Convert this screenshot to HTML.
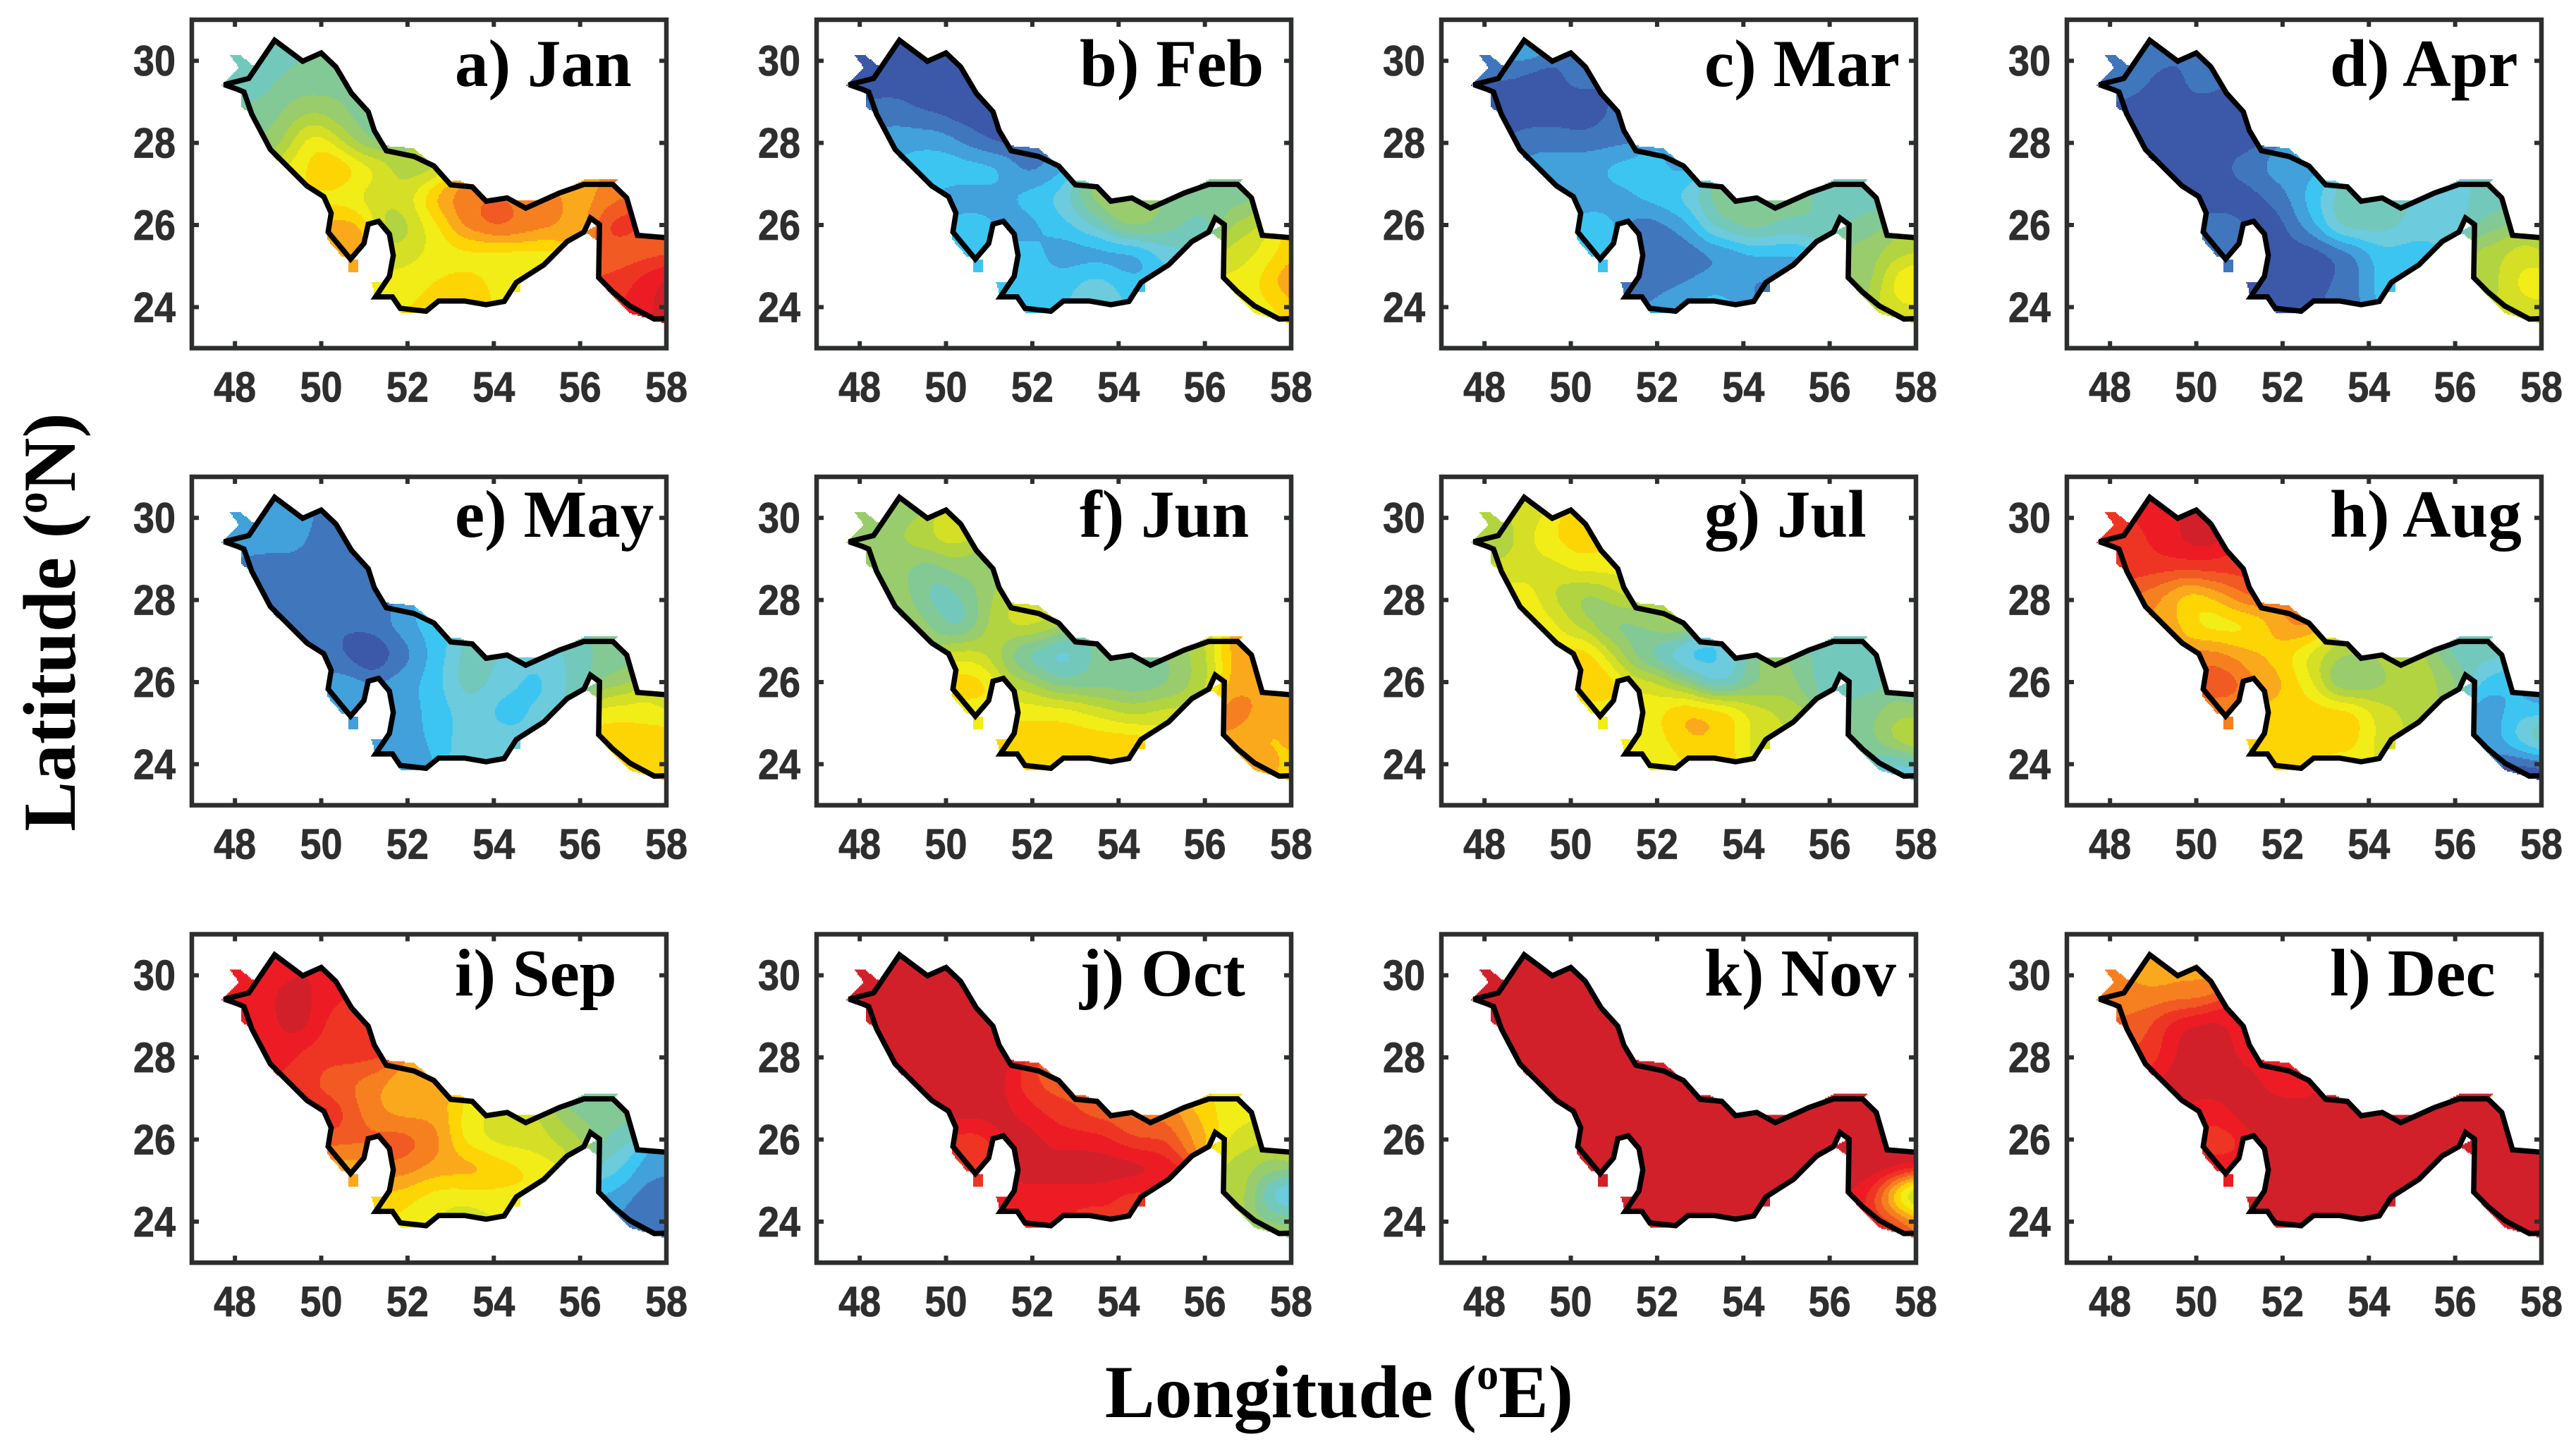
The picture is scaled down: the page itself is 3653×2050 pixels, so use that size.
<!DOCTYPE html>
<html lang="en">
<head>
<meta charset="utf-8">
<title>Monthly maps of the Persian Gulf</title>
<style>
html,body{margin:0;padding:0;background:#fff;}
svg{display:block;}
.panel-title{font-family:"Liberation Serif",serif;font-weight:bold;font-size:95px;fill:#000;}
.tick-label{font-family:"Liberation Sans",sans-serif;font-weight:bold;font-size:60px;fill:#2e2e2e;stroke:#2e2e2e;stroke-width:0.8;}
.axis-title{font-family:"Liberation Serif",serif;font-weight:bold;font-size:106px;fill:#000;}
</style>
</head>
<body>
<svg id="figure" xmlns="http://www.w3.org/2000/svg" width="3653" height="2050" viewBox="0 0 3653 2050">
  <rect width="3653" height="2050" fill="#fff"/>
  <g id="panel-0" transform="translate(272,28)"><text class="panel-title" x="373" y="94">a) Jan</text></g>
  <g id="panel-1" transform="translate(1158,28)"><text class="panel-title" x="373" y="94">b) Feb</text></g>
  <g id="panel-2" transform="translate(2044,28)"><text class="panel-title" x="373" y="94">c) Mar</text></g>
  <g id="panel-3" transform="translate(2931,28)"><text class="panel-title" x="373" y="94">d) Apr</text></g>
  <g id="panel-4" transform="translate(272,676)"><text class="panel-title" x="373" y="85">e) May</text></g>
  <g id="panel-5" transform="translate(1158,676)"><text class="panel-title" x="373" y="85">f) Jun</text></g>
  <g id="panel-6" transform="translate(2044,676)"><text class="panel-title" x="373" y="85">g) Jul</text></g>
  <g id="panel-7" transform="translate(2931,676)"><text class="panel-title" x="373" y="85">h) Aug</text></g>
  <g id="panel-8" transform="translate(272,1324.5)"><text class="panel-title" x="373" y="87">i) Sep</text></g>
  <g id="panel-9" transform="translate(1158,1324.5)"><text class="panel-title" x="373" y="87">j) Oct</text></g>
  <g id="panel-10" transform="translate(2044,1324.5)"><text class="panel-title" x="373" y="87">k) Nov</text></g>
  <g id="panel-11" transform="translate(2931,1324.5)"><text class="panel-title" x="373" y="87">l) Dec</text></g>
  <text class="axis-title" transform="translate(106,882) rotate(-90)" text-anchor="middle">Latitude (<tspan font-size="62" dy="-40">o</tspan><tspan dy="40">N)</tspan></text>
  <text class="axis-title" x="1899" y="2009" text-anchor="middle">Longitude (<tspan font-size="62" dy="-40">o</tspan><tspan dy="40">E)</tspan></text>
</svg>
<script>
// ---------- chart data ----------
const lonTicks = [48, 50, 52, 54, 56, 58];
const latTicks = [30, 28, 26, 24];

const levelColors = ['#3c58a8','#4076bc','#42a0da','#3dc5f2','#6ccbdc','#72c8bb','#82c996','#98cc6c','#b2d440','#d4df25','#f2ec17','#fdd505','#fba91c','#f6801f','#f15a22','#ee3524','#ed1c24','#d2202a'];

const stationLon = [49.0, 48.5,49.3,50.1, 48.7,49.5,50.3,50.9, 49.0,49.8,50.6,51.2, 49.5,50.3,51.1,51.9,52.5, 50.3,51.1,51.9,52.7,53.5,55.9,56.7, 54.6,55.4, 50.6,51.8,52.6,53.4,54.2,55.0,55.8,56.9, 50.6, 51.9,52.7,53.5,54.3,55.1,56.8,57.5, 51.9,52.7,53.5,54.3,56.9,57.6,58, 52.3,53.3,57.5,58, 58];
const stationLat = [30.1, 29.5,29.5,29.5, 28.8,28.8,28.8,28.8, 28.1,28.1,28.1,28.1, 27.4,27.4,27.4,27.4,27.4, 26.7,26.7,26.7,26.7,26.7,26.7,26.7, 26.4,26.4, 26,26,26,26,26,26,26,26, 25.4, 25.3,25.3,25.3,25.3,25.3,25.3,25.3, 24.6,24.6,24.6,24.6,24.6,24.6,24.6, 24.1,24.1,24.0,23.9, 25.5];

const janLevels = [5, 5,6,6, 6,7,7,6, 7,10,8,6, 10,11.6,10,8,8, 10,9,9,12,13,12,13, 13,13, 12,8,10,13,14,13,12,15, 12, 9,10,10,10,10,14,14, 10,10.6,11,10,15,16,17, 10.6,10.6,16,17, 14];
const febLevels = [0, 0,0,0, 1,0.4,0,0, 2,2,1,0, 3,3,3,1,2, 2,2,3,4,7,6,6, 7,6, 3,2,3,4.5,7,6,5,8, 3, 3,2,2,2,4,9,10, 3,3,4,3,10,11,13, 3,4,10,11, 11];
const marLevels = [2, 0.5,-0.5,1, -0.3,0,-0.4,0.8, 1,1,1,1, 2,2,3,3,2, 2,2,3,4,6,5,5, 6,6, 3,1,2,5,6,5,5,6, 3, 1,1,1.6,2.6,2.5,7,8, 1,1.5,2,1.5,7,10,11, 2,3,9,9, 8];
const aprLevels = [1, 1,0,1, 0,0,0,0, 0,0,0,0, 0,0,1,2,2, 0,0,1,3,5,4,5, 5,4, 1,0,2,5,5,4,4,6, 1, 0,0,1,3,3,8,9, 0,0,1,3,8,10,10, 0,1,9,9, 8];
const mayLevels = [2, 2,2,1, 1,1,1,1, 1,1,1,1, 1,0.6,1,2,3, 0.8,-0.5,1,3,5,5,6, 4,4, 2,2,3,5,4,3,5,7, 2, 2,3,4,3,4,10,10, 2,3,4,4,11,11,11, 2,4,11,11, 9];
const junLevels = [7, 7,8,9, 7,6,7,7, 7,5,6,8, 7,5,8,9,8, 9,8,5,4,6,8,12, 6,7, 11,8,6,6,6,6,8,12, 10, 10,10,9,8,9,13,12, 11,11,11,11,12,11,12, 11,11,12,11, 12];
const julLevels = [9, 8,10,11, 9,9,10,10, 10,8,7,9, 10,8,6,7,8, 11,8,5,3,4,5,5, 7,6, 11.4,9,7,4,6,7,5,5, 10, 10,11.4,11,9,8,6,7, 10,11.4,11,9,6,8,9, 10,11,4,4, 6];
const augLevels = [16, 15,16,17, 15,15,15,15, 13,11,12,14, 12,10,10,12,13, 13,12,11,9,8,5,5, 8,8, 14,12,10,6,7,8,7,3, 13, 11,11,11,9,8,2,3, 11,11,11,9,2,4,6, 11,10,0,0, 2];
const sepLevels = [16, 16,17,16, 16,17,15,15, 16,15,15,15, 15,14,13,12,12, 15,13,12,12,10,6,6, 9,8, 14,14,13,10,9,9,8,5, 12, 13,12,12,11,10,4,2, 11,10,10,10,2,1,1, 10,9,1,1, 2];
const octLevels = [17, 17,17,17, 17,17,17,17, 17,17,17,17, 17,17,17,15,14, 17,17,16,15,14,11,10, 13,13, 15,17,16,16,15,15,12,9, 15, 17,17,17,17,16,8,7, 16,16,16,15,8,4,3, 16,15,7,7, 8];
const novLevels = [17, 17,17,17, 17,17,17,17, 17,17,17,17, 17,17,17,17,17, 17,17,17,17,17,17,17, 17,17, 17,17,17,17,17,17,17,17, 17, 17,17,17,17,17,17,17, 17,17,17,17,15.6,10,7, 17,17,15.6,13, 17];
const decLevels = [12, 13,13,13, 14,16,17,16, 15,17,17,16, 17,17,17,16,16, 16,17,17,17,17,17,17, 17,17, 15,17,17,17,17,17,17,17, 16, 17,17,17,17,17,17,17, 17,17,17,17,17,16.6,16.4, 17,17,17,17, 17];

const monthSeries = [janLevels,febLevels,marLevels,aprLevels,mayLevels,junLevels,julLevels,augLevels,sepLevels,octLevels,novLevels,decLevels];

const coastline = [[58,23.72],[57.72,23.71],[57.15,24.03],[56.76,24.37],[56.43,24.72],[56.45,26.01],[56.24,26.17],[56.09,25.83],[55.7,25.6],[55.16,25.03],[54.52,24.6],[54.24,24.14],[53.82,24.06],[53.32,24.15],[52.72,24.15],[52.43,23.9],[51.83,23.97],[51.65,24.25],[51.26,24.25],[51.58,24.75],[51.67,25.26],[51.58,25.78],[51.33,26.09],[51.09,26.02],[50.99,25.55],[50.68,25.17],[50.16,25.83],[50.23,26.29],[50.06,26.69],[49.67,26.95],[48.82,27.84],[48.39,28.7],[48.21,29.24],[48.07,29.3],[47.75,29.42],[48.32,29.57],[48.92,30.5],[49.57,29.99],[50,30.19],[50.34,29.85],[50.7,29.21],[51.09,28.76],[51.23,28.3],[51.51,27.81],[52.15,27.67],[52.61,27.44],[53,26.98],[53.5,26.93],[53.82,26.58],[54.31,26.66],[54.74,26.41],[55.52,26.78],[56.09,26.99],[56.76,26.99],[57.08,26.66],[57.33,25.75],[58,25.69]];

// grid-cell fringes of the gridded field that stick out past the coastline
const fringePolygons = [
 [[47.89,30.13],[48.14,30.13],[48.46,29.85],[48.32,29.57],[47.75,29.42],[47.65,29.38],[48.1,29.82]],
 [[48.14,29.24],[48.14,28.87],[48.39,28.7],[48.21,29.24]],
 [[48.82,27.84],[48.89,27.67],[49.43,27.12],[49.67,26.95]],
 [[51.51,27.81],[51.51,27.93],[52.15,27.87],[52.61,27.44]],
 [[53,26.98],[53,27.09],[53.21,27.09],[53.5,26.93]],
 [[54.31,26.66],[54.45,26.6],[55.1,26.6],[54.74,26.41]],
 [[55.52,26.78],[56.09,27.1],[56.87,27.1],[56.76,26.99],[56.09,26.99]],
 [[50.62,25.17],[50.87,25.17],[50.87,24.86],[50.62,24.86]],
 [[51.16,24.6],[51.47,24.6],[51.58,24.75],[51.26,24.25]],
 [[51.65,24.25],[51.83,23.86],[52.43,23.85],[52.43,23.9],[51.83,23.97]],
 [[54.52,24.6],[54.63,24.6],[54.63,24.37],[54.3,24.37]],
 [[56.43,24.72],[56.65,24.37],[57.15,23.85],[58,23.6],[58,23.72],[57.15,24.03]],
 [[56.09,25.83],[56.16,25.8],[56.37,25.63],[56.45,26.01]],
 [[50.16,25.83],[50.13,25.66],[50.48,25.23],[50.68,25.17]]
];

// ---------- axis functions ----------
const SVGNS = 'http://www.w3.org/2000/svg';
const W = 673, H = 465.6, LON0 = 47, LON1 = 58, LAT0 = 23, LAT1 = 31;
function xScale(lon){ return (lon - LON0) / (LON1 - LON0) * W; }
function yScale(lat){ return (LAT1 - lat) / (LAT1 - LAT0) * H; }
function xInv(px){ return LON0 + px / W * (LON1 - LON0); }
function yInv(py){ return LAT1 - py / H * (LAT1 - LAT0); }

function inPoly(poly, lon, lat){
  let inside = false;
  for (let i = 0, j = poly.length - 1; i < poly.length; j = i++) {
    const a = poly[i], b = poly[j];
    if ((a[1] > lat) !== (b[1] > lat) && lon < (b[0] - a[0]) * (lat - a[1]) / (b[1] - a[1]) + a[0]) inside = !inside;
  }
  return inside;
}
const maskPolygons = [coastline].concat(fringePolygons);
function inMask(lon, lat){
  if (lon > 58) return false;
  for (const p of maskPolygons) if (inPoly(p, lon, lat)) return true;
  return false;
}

// ---------- field interpolation (two pass Barnes analysis of station values) ----------
const SIGMA = 0.42;
function kernelRow(lon, lat){
  const w = new Float64Array(stationLon.length);
  let sum = 0;
  for (let k = 0; k < stationLon.length; k++) {
    const dx = lon - stationLon[k], dy = lat - stationLat[k];
    w[k] = Math.exp(-(dx * dx + dy * dy) / (2 * SIGMA * SIGMA));
    sum += w[k];
  }
  for (let k = 0; k < w.length; k++) w[k] /= sum;
  return w;
}
function dot(w, v){
  let s = 0;
  for (let k = 0; k < w.length; k++) s += w[k] * v[k];
  return s;
}
const stationKernels = stationLon.map((lon, i) => kernelRow(lon, stationLat[i]));

const STEP = 2;
const samples = [];
for (let py = 0; py < H; py += STEP) {
  for (let px = 0; px < W; px += STEP) {
    const lon = xInv(px + STEP / 2), lat = yInv(py + STEP / 2);
    if (inMask(lon, lat)) samples.push({px: px, py: py, w: kernelRow(lon, lat)});
  }
}

function bandPaths(values){
  const residual = values.map((v, i) => v - dot(stationKernels[i], values));
  const paths = levelColors.map(() => []);
  let run = null;
  function flush(){
    if (run) paths[run.level].push('M' + run.x0 + ' ' + run.y + 'h' + (run.x1 - run.x0) + 'v' + STEP + 'h' + (run.x0 - run.x1) + 'z');
    run = null;
  }
  for (const s of samples) {
    const v = dot(s.w, values) + dot(s.w, residual);
    const level = Math.max(0, Math.min(levelColors.length - 1, Math.round(v)));
    if (run && run.level === level && run.y === s.py && run.x1 === s.px) {
      run.x1 = s.px + STEP;
    } else {
      flush();
      run = {level: level, y: s.py, x0: s.px, x1: s.px + STEP};
    }
  }
  flush();
  return paths;
}

// ---------- drawing ----------
function drawPanel(index){
  const panel = document.getElementById('panel-' + index);
  const title = panel.querySelector('text');

  const bands = bandPaths(monthSeries[index]);
  bands.forEach((segments, level) => {
    if (!segments.length) return;
    const el = document.createElementNS(SVGNS, 'path');
    
    
    el.setAttribute('d', segments.join(''));
    el.setAttribute('fill', levelColors[level]);
    el.setAttribute('shape-rendering', 'crispEdges');
    panel.insertBefore(el, title);
  });

  const coast = document.createElementNS(SVGNS, 'polyline');
  
  
  coast.setAttribute('points', coastline.map(p => xScale(p[0]).toFixed(1) + ',' + yScale(p[1]).toFixed(1)).join(' '));
  coast.setAttribute('fill', 'none');
  coast.setAttribute('stroke', '#000');
  coast.setAttribute('stroke-width', '7.5');
  coast.setAttribute('stroke-linejoin', 'miter');
  coast.setAttribute('stroke-miterlimit', '3');
  panel.insertBefore(coast, title);

  const frame = document.createElementNS(SVGNS, 'rect');
  
  
  frame.setAttribute('x', 0);
  frame.setAttribute('y', 0);
  frame.setAttribute('width', W);
  frame.setAttribute('height', H);
  frame.setAttribute('fill', 'none');
  frame.setAttribute('stroke', '#2d2f2e');
  frame.setAttribute('stroke-width', '6.5');
  panel.insertBefore(frame, title);

  const tickLen = 10;
  lonTicks.forEach(lon => {
    [[0, tickLen], [H, H - tickLen]].forEach(pair => {
      const t = document.createElementNS(SVGNS, 'line');
      
      
      t.setAttribute('x1', xScale(lon));
      t.setAttribute('x2', xScale(lon));
      t.setAttribute('y1', pair[0]);
      t.setAttribute('y2', pair[1]);
      t.setAttribute('stroke', '#2d2f2e');
      t.setAttribute('stroke-width', '6');
      panel.insertBefore(t, title);
    });
    const label = document.createElementNS(SVGNS, 'text');
    
    
    label.setAttribute('class', 'tick-label');
    label.setAttribute('x', xScale(lon));
    label.setAttribute('y', H + 76);
    label.setAttribute('text-anchor', 'middle');
    label.setAttribute('textLength', '60');
    label.setAttribute('lengthAdjust', 'spacingAndGlyphs');
    label.textContent = lon;
    panel.insertBefore(label, title);
  });
  latTicks.forEach(lat => {
    [[0, tickLen], [W, W - tickLen]].forEach(pair => {
      const t = document.createElementNS(SVGNS, 'line');
      
      
      t.setAttribute('x1', pair[0]);
      t.setAttribute('x2', pair[1]);
      t.setAttribute('y1', yScale(lat));
      t.setAttribute('y2', yScale(lat));
      t.setAttribute('stroke', '#2d2f2e');
      t.setAttribute('stroke-width', '6');
      panel.insertBefore(t, title);
    });
    const label = document.createElementNS(SVGNS, 'text');
    
    
    label.setAttribute('class', 'tick-label');
    label.setAttribute('x', -23);
    label.setAttribute('y', yScale(lat) + 21);
    label.setAttribute('text-anchor', 'end');
    label.setAttribute('textLength', '60');
    label.setAttribute('lengthAdjust', 'spacingAndGlyphs');
    label.textContent = lat;
    panel.insertBefore(label, title);
  });
}
monthSeries.forEach((series, i) => drawPanel(i));
</script>
</body>
</html>
